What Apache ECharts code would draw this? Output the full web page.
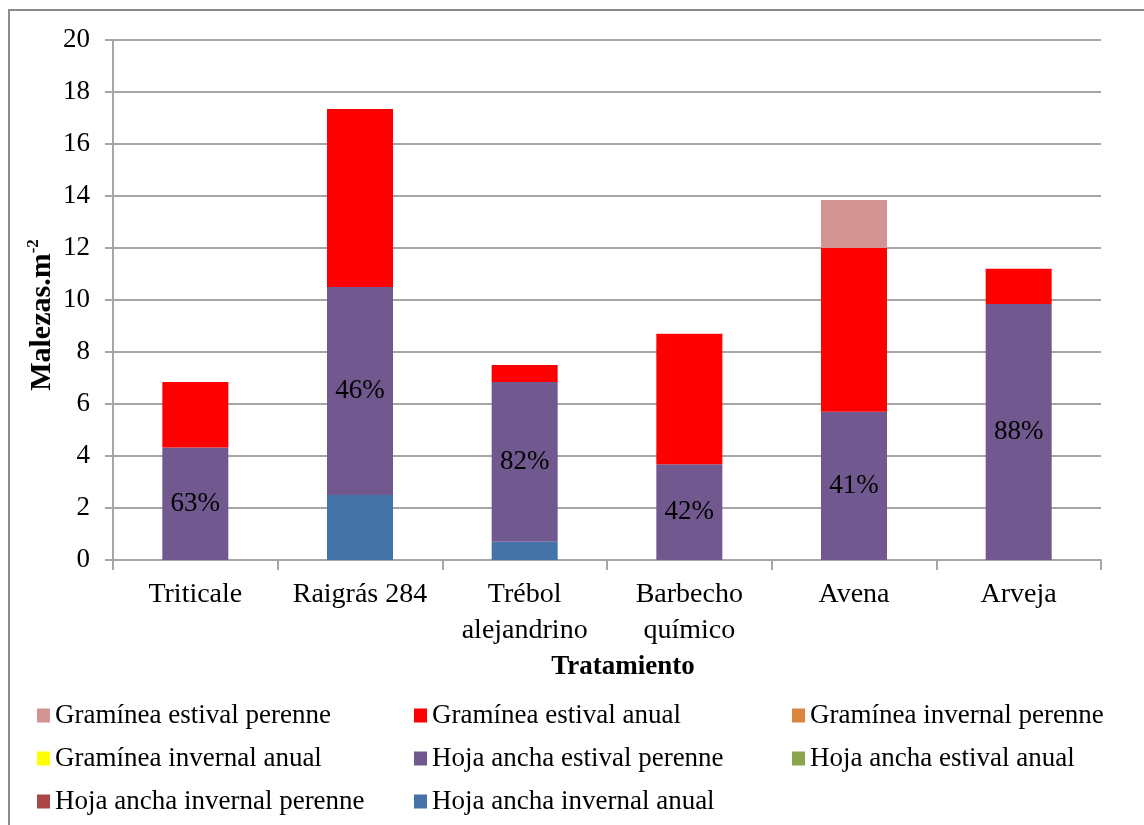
<!DOCTYPE html>
<html>
<head>
<meta charset="utf-8">
<style>
  html, body { margin: 0; padding: 0; background: #fff; }
  #chart { width: 1144px; height: 825px; }
</style>
<script src="https://cdn.jsdelivr.net/npm/echarts@6/dist/echarts.min.js"></script>
</head>
<body>
<div id="chart"></div>
<script>
// Weed density (plants per m²) by treatment, stacked by functional group
var categories = ['Triticale', 'Raigrás 284', 'Trébol\nalejandrino', 'Barbecho\nquímico', 'Avena', 'Arveja'];

var hojaAnchaInvernalAnual   = [0,    2.5,  0.7,  0,    0,    0];
var hojaAnchaInvernalPerenne = [0,    0,    0,    0,    0,    0];
var hojaAnchaEstivalAnual    = [0,    0,    0,    0,    0,    0];
var hojaAnchaEstivalPerenne  = [4.33, 8.0,  6.15, 3.68, 5.7,  9.85];
var gramineaInvernalAnual    = [0,    0,    0,    0,    0,    0];
var gramineaInvernalPerenne  = [0,    0,    0,    0,    0,    0];
var gramineaEstivalAnual     = [2.52, 6.85, 0.65, 5.02, 6.3,  1.35];
var gramineaEstivalPerenne   = [0,    0,    0,    0,    1.85, 0];

var yTicks = { min: 0, max: 20, interval: 2 };

var FONT = 'Liberation Serif';
var GRID_COLOR = '#a6a6a6';

// Stack order, bottom to top
var seriesDefs = [
  { name: 'Hoja ancha invernal anual',   data: hojaAnchaInvernalAnual,   color: '#4573a7' },
  { name: 'Hoja ancha invernal perenne', data: hojaAnchaInvernalPerenne, color: '#aa4643' },
  { name: 'Hoja ancha estival anual',    data: hojaAnchaEstivalAnual,    color: '#89a54e' },
  { name: 'Hoja ancha estival perenne',  data: hojaAnchaEstivalPerenne,  color: '#71588f' },
  { name: 'Gramínea invernal anual',     data: gramineaInvernalAnual,    color: '#ffff00' },
  { name: 'Gramínea invernal perenne',   data: gramineaInvernalPerenne,  color: '#db843d' },
  { name: 'Gramínea estival anual',      data: gramineaEstivalAnual,     color: '#ff0000' },
  { name: 'Gramínea estival perenne',    data: gramineaEstivalPerenne,   color: '#d29594' }
];

// Share of "Hoja ancha estival perenne" in each bar's total
function shareLabel(idx) {
  var total = 0;
  seriesDefs.forEach(function (s) { total += s.data[idx]; });
  return Math.round(hojaAnchaEstivalPerenne[idx] / total * 100) + '%';
}

var series = seriesDefs.map(function (s) {
  var item = {
    name: s.name,
    type: 'bar',
    stack: 'total',
    barWidth: 66,
    data: s.data,
    itemStyle: { color: s.color },
    emphasis: { disabled: true }
  };
  if (s.name === 'Hoja ancha estival perenne') {
    item.label = {
      show: true,
      position: 'inside',
      fontFamily: FONT,
      fontSize: 27,
      color: '#000',
      formatter: function (p) { return shareLabel(p.dataIndex); }
    };
  }
  return item;
});

var legendColumns = [
  { left: 37,  names: ['Gramínea estival perenne', 'Gramínea invernal anual', 'Hoja ancha invernal perenne'] },
  { left: 414, names: ['Gramínea estival anual', 'Hoja ancha estival perenne', 'Hoja ancha invernal anual'] },
  { left: 792, names: ['Gramínea invernal perenne', 'Hoja ancha estival anual'] }
];

var legends = legendColumns.map(function (col) {
  return {
    orient: 'vertical',
    left: col.left,
    top: 694,
    padding: 0,
    itemGap: 0,
    itemWidth: 13,
    itemHeight: 14,
    icon: 'rect',
    selectedMode: false,
    data: col.names,
    textStyle: { fontFamily: FONT, fontSize: 27, color: '#000', lineHeight: 43 }
  };
});

var chart = echarts.init(document.getElementById('chart'), null, { renderer: 'canvas' });
chart.setOption({
  animation: false,
  backgroundColor: '#fff',
  graphic: [{
    type: 'rect',
    shape: { x: 9, y: 10, width: 1200, height: 900 },
    style: { fill: null, stroke: '#8c8c8c', lineWidth: 2 },
    silent: true,
    z: 100
  }],
  grid: { left: 113, right: 43, top: 40, bottom: 265, containLabel: false },
  legend: legends,
  xAxis: {
    type: 'category',
    data: categories,
    name: 'Tratamiento',
    nameLocation: 'middle',
    nameGap: 85,
    nameTextStyle: {
      fontFamily: FONT, fontSize: 27, fontWeight: 'bold', color: '#000',
      padding: [0, 0, 0, 32]
    },
    axisLine: { lineStyle: { color: GRID_COLOR, width: 2 } },
    axisTick: { show: true, length: 10, lineStyle: { color: GRID_COLOR, width: 2 } },
    axisLabel: { fontFamily: FONT, fontSize: 28, color: '#000', margin: 17, lineHeight: 36, interval: 0 }
  },
  yAxis: {
    type: 'value',
    min: yTicks.min,
    max: yTicks.max,
    interval: yTicks.interval,
    name: '{a|Malezas.m}{b|-2}',
    nameLocation: 'middle',
    nameRotate: 90,
    nameGap: 54,
    nameMoveOverlap: false,
    nameTextStyle: {
      padding: [0, 30, 0, 0],
      rich: {
        a: { fontFamily: FONT, fontSize: 30, fontWeight: 'bold', color: '#000', lineHeight: 34 },
        b: { fontFamily: FONT, fontSize: 17, fontWeight: 'bold', color: '#000', verticalAlign: 'top', lineHeight: 17 }
      }
    },
    axisLine: { show: true, lineStyle: { color: GRID_COLOR, width: 2 } },
    axisTick: { show: true, length: 8, lineStyle: { color: GRID_COLOR, width: 2 } },
    axisLabel: { fontFamily: FONT, fontSize: 27, color: '#000', margin: 23 },
    splitLine: { show: true, lineStyle: { color: GRID_COLOR, width: 2 } }
  },
  series: series
});
</script>
</body>
</html>
